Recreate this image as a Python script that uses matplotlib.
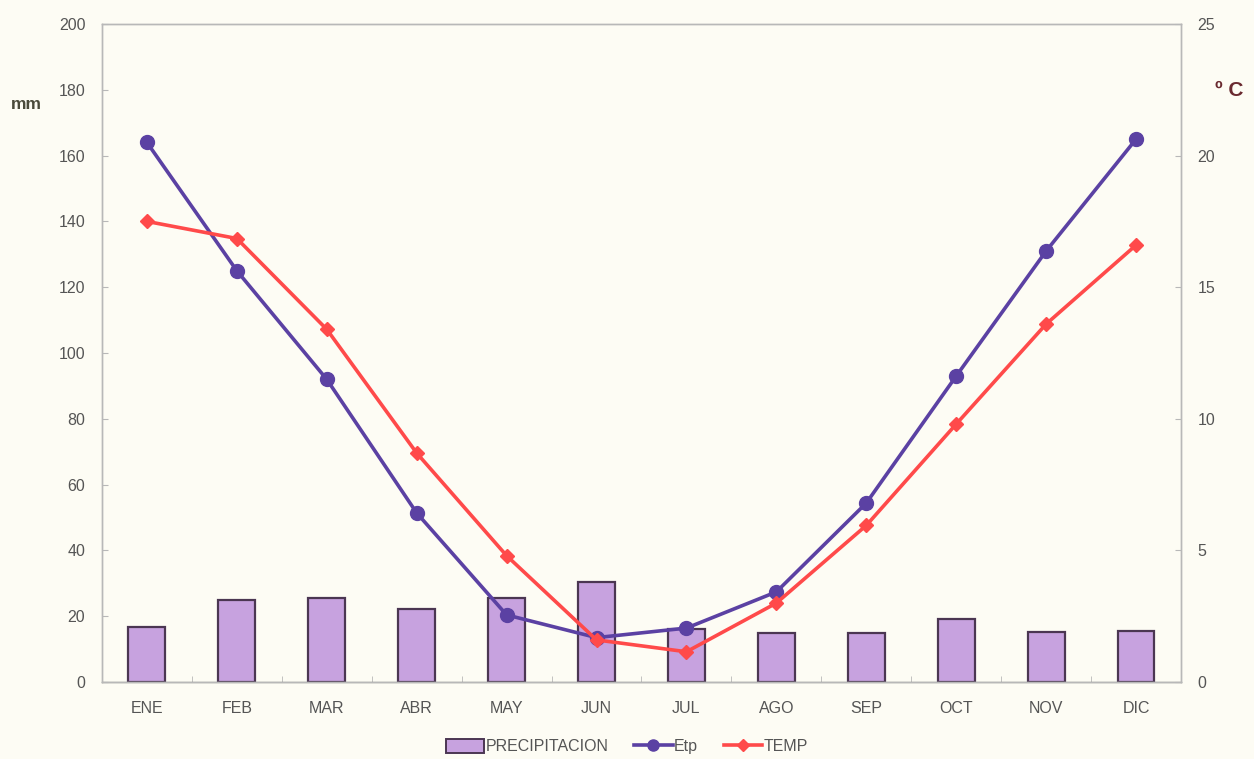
import matplotlib.pyplot as plt
from matplotlib.patches import Patch
from matplotlib.lines import Line2D
import numpy as np

plt.rcParams['font.family'] = ['Liberation Sans', 'DejaVu Sans']

# monthly climate data
months = ["ENE", "FEB", "MAR", "ABR", "MAY", "JUN", "JUL", "AGO", "SEP", "OCT", "NOV", "DIC"]
precipitacion = [16.6, 24.9, 25.5, 22.1, 25.6, 30.4, 16.0, 15.0, 15.0, 19.1, 15.2, 15.6]   # mm
etp = [164, 125, 92, 51.4, 20.4, 13.5, 16.4, 27.4, 54.4, 93, 131, 165]                   # mm
temp = [17.5, 16.85, 13.4, 8.7, 4.8, 1.6, 1.15, 3.0, 5.95, 9.8, 13.6, 16.6]               # ºC

BG = "#fdfcf4"
BAR_FILL = "#c7a2df"
BAR_EDGE = "#4b3652"
ETP_COL = "#5b41a3"
TEMP_COL = "#ff4a4a"
TICK_COL = "#555555"
FRAME_COL = "#b8b8b8"

fig = plt.figure(figsize=(12.54, 7.59), dpi=100, facecolor=BG)
ax = fig.add_axes([0.0813, 0.1014, 0.8605, 0.867])
ax.set_facecolor(BG)
ax2 = ax.twinx()

x = np.arange(len(months))

ax.bar(x, precipitacion, width=0.41, color=BAR_FILL, edgecolor=BAR_EDGE, linewidth=1.6, zorder=2)
ax.plot(x, etp, color=ETP_COL, lw=2.6, marker="o", ms=10, zorder=3)
ax2.plot(x, temp, color=TEMP_COL, lw=2.6, marker="D", ms=7.5, zorder=4)

ax.set_xlim(-0.5, len(months) - 0.5)
ax.set_ylim(0, 200)
ax.set_yticks(range(0, 201, 20))
ax2.set_ylim(0, 25)
ax2.set_yticks(range(0, 26, 5))

ax.set_xticks(x)
ax.set_xticklabels(months)
ax.set_xticks(np.arange(0.5, len(months) - 0.5, 1), minor=True)
ax.tick_params(axis="x", which="major", length=0, pad=14, labelsize=11.5, labelcolor=TICK_COL)
ax.tick_params(axis="x", which="minor", direction="in", length=4, color=FRAME_COL)
ax.tick_params(axis="y", direction="in", length=4, color=FRAME_COL, pad=12,
               labelsize=11.5, labelcolor=TICK_COL)
ax2.tick_params(axis="y", direction="in", length=4, color=FRAME_COL, pad=12,
                labelsize=11.5, labelcolor=TICK_COL)

for a in (ax, ax2):
    for s in a.spines.values():
        s.set_color(FRAME_COL)
        s.set_linewidth(1.0)
ax.spines["bottom"].set_color("#888888")

fig.text(0.009, 0.862, "mm", fontsize=12.5, fontweight="bold", color="#4a4a3a", va="center")
fig.text(0.969, 0.881, "º C", fontsize=15, fontweight="bold", color="#6a2a30", va="center")

handles = [
    Patch(facecolor=BAR_FILL, edgecolor=BAR_EDGE, linewidth=1.4, label="PRECIPITACION"),
    Line2D([], [], color=ETP_COL, lw=2.6, marker="o", ms=8, label="Etp"),
    Line2D([], [], color=TEMP_COL, lw=2.6, marker="D", ms=6, label="TEMP"),
]
fig.legend(handles=handles, loc="center", bbox_to_anchor=(0.5, 0.016), ncol=3, frameon=False,
           fontsize=11.5, labelcolor=TICK_COL, handlelength=2.4, handletextpad=0.1,
           columnspacing=1.6, handleheight=0.9)

fig.savefig("out.png", dpi=100, facecolor=BG)
